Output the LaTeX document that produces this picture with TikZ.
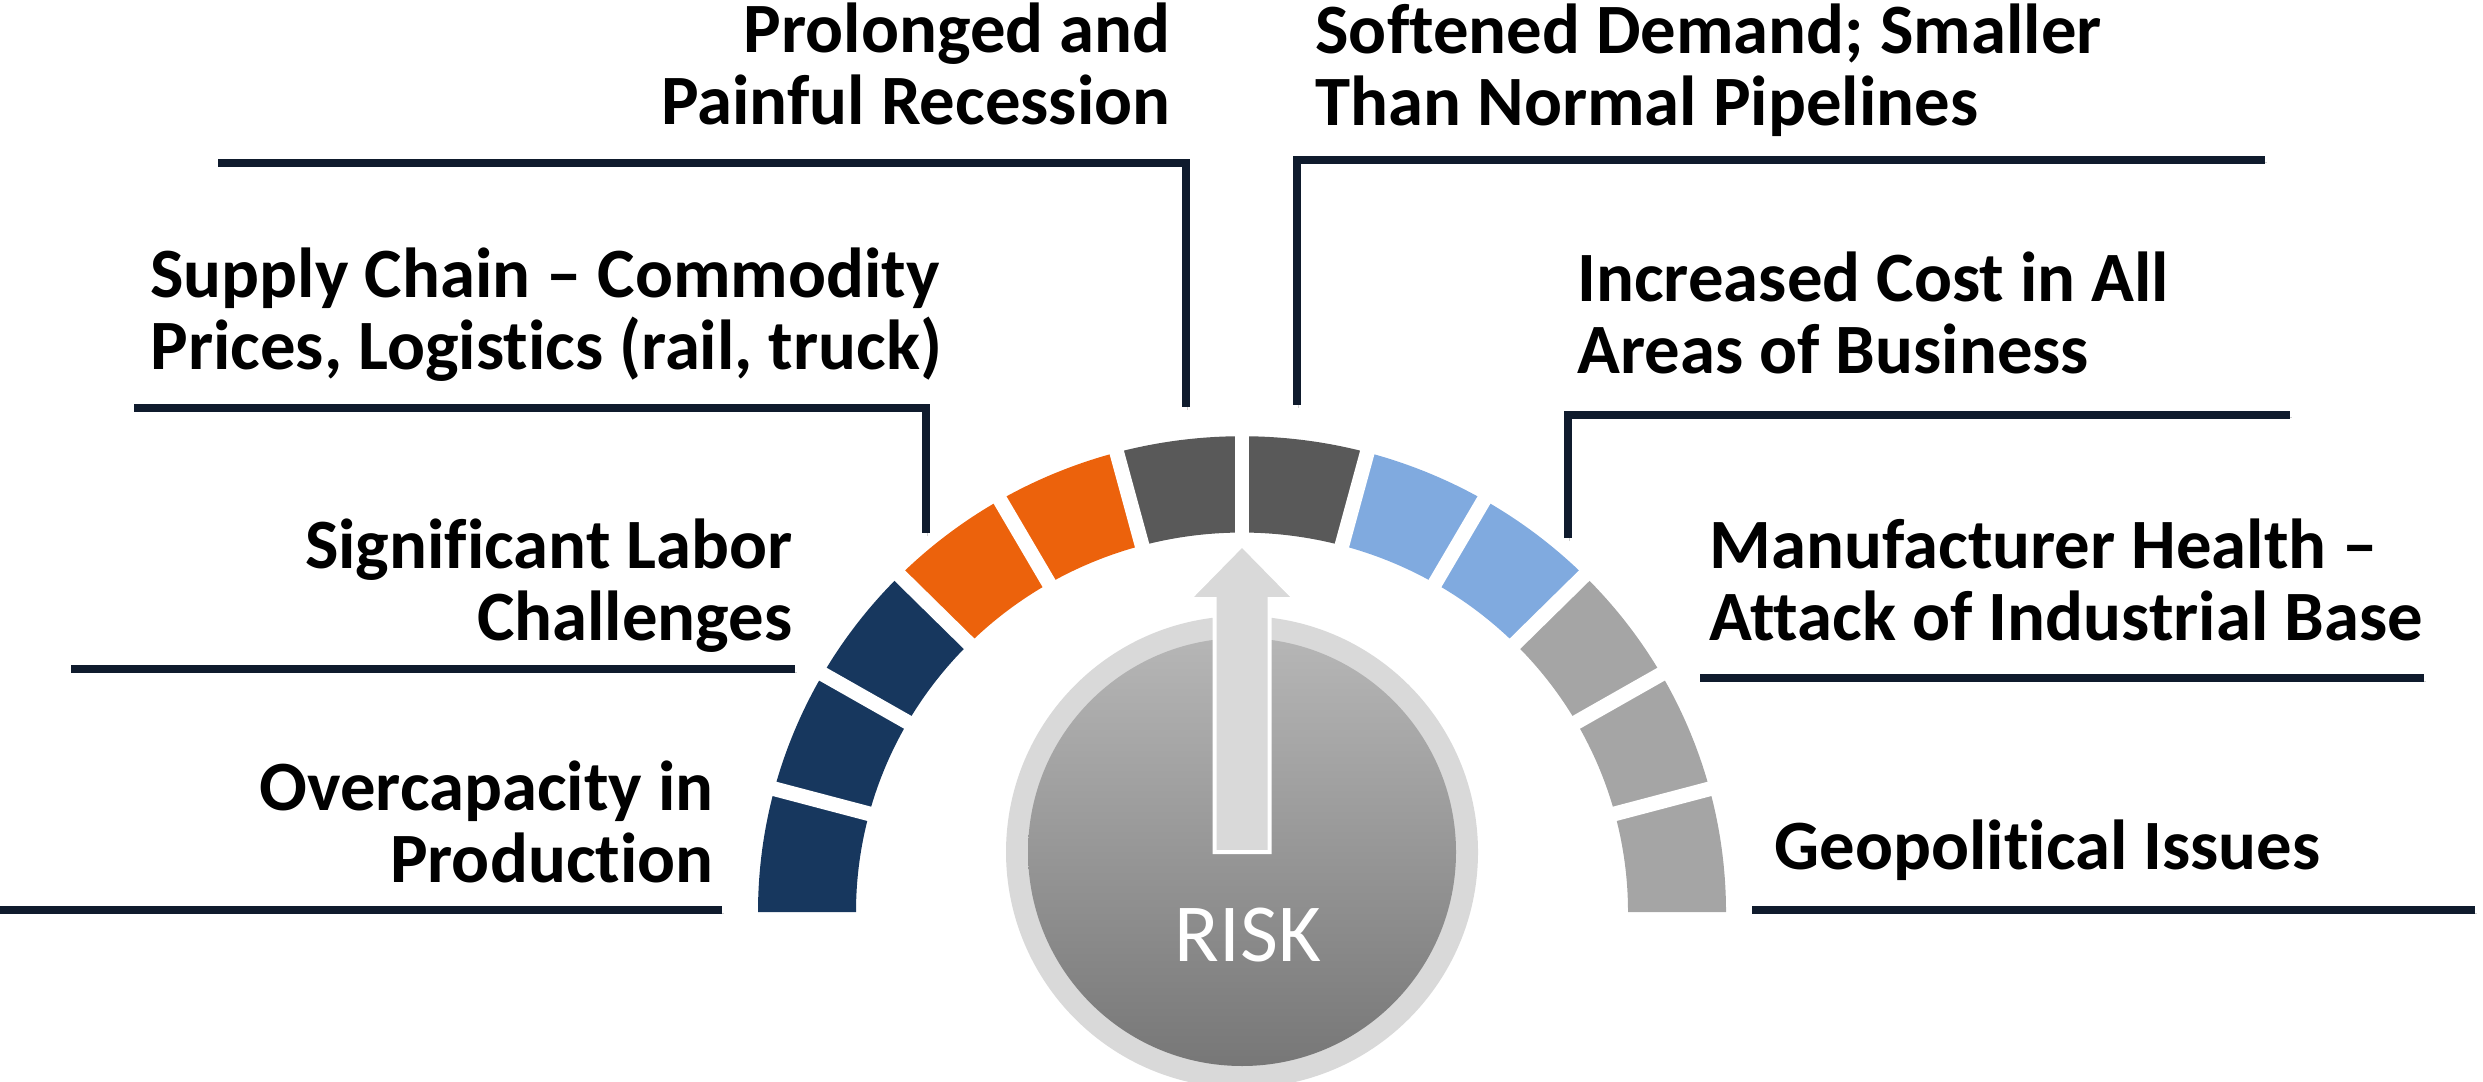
\documentclass[tikz,border=0pt]{standalone}
\usepackage{fontspec}
\setmainfont{Carlito}[Ligatures={TeX,NoCommon}]
\definecolor{segnavy}{HTML}{17375E}
\definecolor{segorange}{HTML}{EC620C}
\definecolor{segdark}{HTML}{595959}
\definecolor{segblue}{HTML}{80AADF}
\definecolor{seggray}{HTML}{A5A5A5}
\definecolor{ringgray}{HTML}{D9D9D9}
\definecolor{knobtop}{HTML}{B6B6B6}
\definecolor{knobbot}{HTML}{777777}
\definecolor{leadcol}{HTML}{0F1B2D}
\begin{document}
\begin{tikzpicture}[x=0.4pt, y=0.4pt,
  txt/.style={font=\fontsize{28.3}{28.8}\selectfont\bfseries, inner sep=0pt},
  leader/.style={draw=leadcol, line width=3.2pt, line join=miter,
    preaction={draw=black!18, transform canvas={shift={(0.6pt,-1.2pt)}}}},
  gap/.style={white, line width=5.9pt}]
\useasboundingbox (0,0) rectangle (2483,1081);
% gauge segments
\begin{scope}[shift={(1242,169)}, yscale=0.983]
\foreach \c [count=\i from 0] in {segnavy,segnavy,segnavy,segorange,segorange,segdark,segdark,segblue,segblue,seggray,seggray,seggray}{
  \pgfmathsetmacro\a{180-15*\i}
  \pgfmathsetmacro\b{165-15*\i}
  \fill[\c] (\a:484) arc[start angle=\a, end angle=\b, radius=484]
    -- (\b:386) arc[start angle=\b, end angle=\a, radius=386] -- cycle;
}
\foreach \k in {1,...,11}
  \draw[gap] ({180-15*\k}:375) -- ({180-15*\k}:495);
\end{scope}
% knob and needle
\fill[ringgray] (1242,229) circle[radius=236];
\shade[top color=knobtop, bottom color=knobbot] (1242,229) circle[radius=214];
\filldraw[fill=ringgray, draw=white, line width=1.6pt] (1214.5,229) -- (1214.5,482)
  -- (1189,482) -- (1242,536) -- (1295,482) -- (1269.5,482) -- (1269.5,229) -- cycle;
\node[font=\fontsize{33}{33}\selectfont, text=white, inner sep=0pt, anchor=base] (risk) at (1248,120) {RISK};
% labels (anchored at the baseline of the last line)
\node[txt, anchor=base east, align=right] (recession) at (1171,956) {Prolonged and\\Painful Recession};
\node[txt, anchor=base west, align=left] (supply) at (150,711) {Supply Chain – Commodity\\Prices, Logistics (rail, truck)};
\node[txt, anchor=base east, align=right] (labor) at (793,441) {Significant Labor\\Challenges};
\node[txt, anchor=base east, align=right] (overcap) at (714,199) {Overcapacity in\\Production};
\node[txt, anchor=base west, align=left] (demand) at (1315,955) {Softened Demand; Smaller\\Than Normal Pipelines};
\node[txt, anchor=base west, align=left] (cost) at (1577,707) {Increased Cost in All\\Areas of Business};
\node[txt, anchor=base west, align=left] (health) at (1709,441) {Manufacturer Health –\\Attack of Industrial Base};
\node[txt, anchor=base west] (geo) at (1774,212) {Geopolitical Issues};
% leader lines
\draw[leader] (218,918) -- (1186,918) -- (1186,674);
\draw[leader] (134,673) -- (926,673) -- (926,548);
\draw[leader] (71,412) -- (795,412);
\draw[leader] (0,171) -- (722,171);
\draw[leader] (1297,676) -- (1297,921) -- (2265,921);
\draw[leader] (1568,543) -- (1568,666) -- (2290,666);
\draw[leader] (1700,403) -- (2424,403);
\draw[leader] (1752,171) -- (2475,171);
\end{tikzpicture}
\end{document}
